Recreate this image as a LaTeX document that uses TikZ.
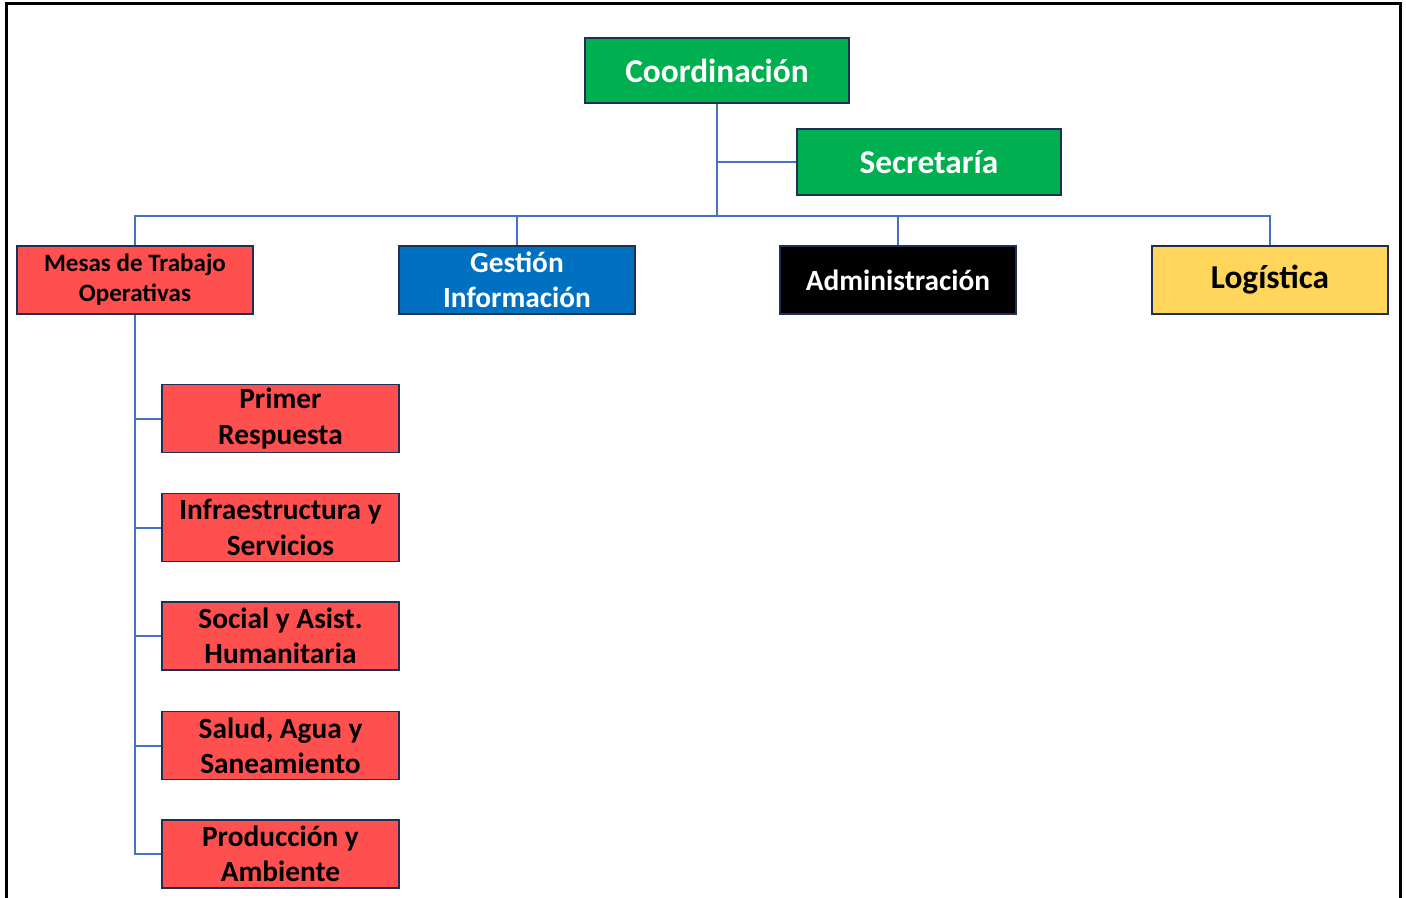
\documentclass[tikz,border=0pt]{standalone}
\usepackage{fontspec}
\setmainfont{Carlito}
\definecolor{cgreen}{HTML}{00B050}
\definecolor{cred}{HTML}{FF5050}
\definecolor{cblue}{HTML}{0070C0}
\definecolor{cyellow}{HTML}{FFD55C}
\definecolor{cline}{HTML}{4472C4}
\definecolor{cborder}{HTML}{1F2F55}
\begin{document}
\begin{tikzpicture}[x=0.75pt,y=-0.75pt,
  box/.style={draw=cborder,line width=1pt,rectangle,inner sep=1pt,align=center,
    font=\bfseries,minimum width=177pt,minimum height=51pt},
  big/.style={font=\fontsize{25}{27}\selectfont\bfseries},
  mid/.style={font=\fontsize{22}{26.5}\selectfont\bfseries},
  small/.style={font=\fontsize{18.8}{22.5}\selectfont\bfseries},
  conn/.style={draw=cline,line width=1.5pt}]
\useasboundingbox (0,0) rectangle (1406,898);
\begin{scope}
\clip (0,0) rectangle (1406,898);
\draw[line width=2pt] (6.5,930) -- (6.5,3.5) -- (1400.5,3.5) -- (1400.5,930);
\end{scope}

\node[box,big,fill=cgreen,text=white,minimum width=198pt,minimum height=48.75pt] (coord) at (717,70.5) {Coordinación};
\node[box,big,fill=cgreen,text=white,minimum width=198pt,minimum height=49.5pt] (secr) at (929,162) {Secretaría};
\node[box,small,fill=cred,text=black] (mesas) at (135,280) {Mesas de Trabajo\\Operativas};
\node[box,mid,fill=cblue,text=white] (gest) at (517,280) {Gestión\\Información};
\node[box,mid,fill=black,text=white] (admin) at (898,280) {Administración};
\node[box,big,fill=cyellow,text=black] (logi) at (1270,280) {Logística};

\node[box,mid,fill=cred,text=black,minimum width=177.75pt] (m1) at (280.5,418.5) {Primer\\Respuesta};
\node[box,mid,fill=cred,text=black,minimum width=177.75pt] (m2) at (280.5,527.5) {Infraestructura y\\Servicios};
\node[box,mid,fill=cred,text=black,minimum width=177.75pt] (m3) at (280.5,636) {Social y Asist.\\Humanitaria};
\node[box,mid,fill=cred,text=black,minimum width=177.75pt] (m4) at (280.5,745.5) {Salud, Agua y\\Saneamiento};
\node[box,mid,fill=cred,text=black,minimum width=177.75pt] (m5) at (280.5,854) {Producción y\\Ambiente};

\coordinate (bus) at (717,216);
\draw[conn] (coord.south) -- (bus);
\draw[conn] (secr.west) -- (secr.west -| coord.south);
\draw[conn] (mesas.north) |- (bus) -| (logi.north);
\draw[conn] (bus) -| (gest.north);
\draw[conn] (bus) -| (admin.north);
\draw[conn] (mesas.south) |- (m5.west);
\foreach \m in {m1,m2,m3,m4} \draw[conn] (\m.west) -- (\m.west -| mesas.south);
\end{tikzpicture}
\end{document}
